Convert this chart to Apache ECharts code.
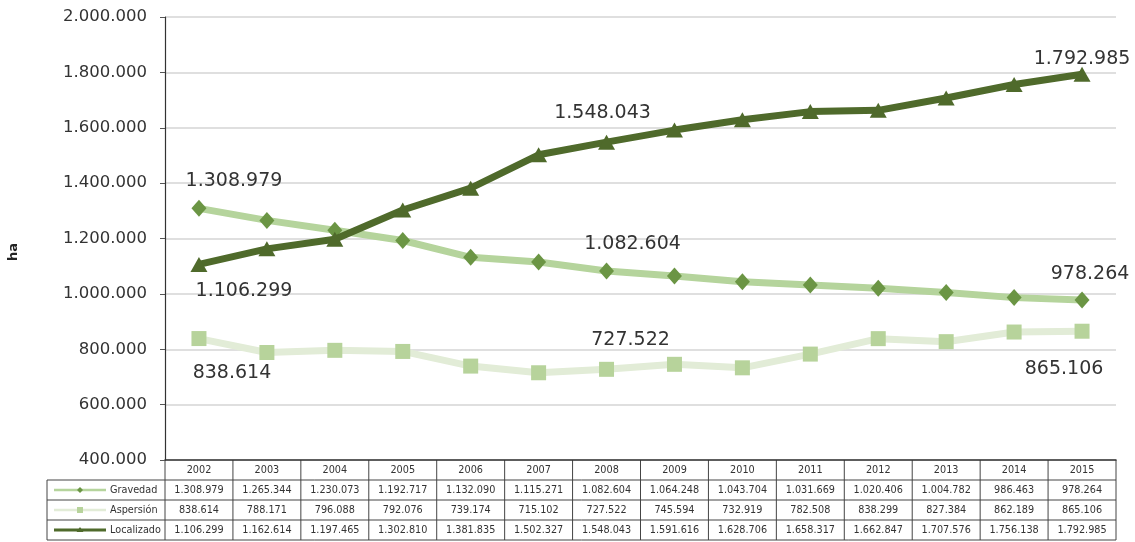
<!DOCTYPE html>
<html>
<head>
<meta charset="utf-8">
<script src="https://cdn.jsdelivr.net/npm/echarts@6/dist/echarts.min.js"></script>
<style>
html,body{margin:0;padding:0;background:#fff;}
#c{width:1135px;height:542px;}
</style>
</head>
<body>
<div id="c"></div>
<script>
const years = ['2002','2003','2004','2005','2006','2007','2008','2009','2010','2011','2012','2013','2014','2015'];
const gravedad = [1308979,1265344,1230073,1192717,1132090,1115271,1082604,1064248,1043704,1031669,1020406,1004782,986463,978264];
const aspersion = [838614,788171,796088,792076,739174,715102,727522,745594,732919,782508,838299,827384,862189,865106];
const localizado = [1106299,1162614,1197465,1302810,1381835,1502327,1548043,1591616,1628706,1658317,1662847,1707576,1756138,1792985];
const seriesNames = ['Gravedad','Aspersión','Localizado'];
const yTicks = [400000,600000,800000,1000000,1200000,1400000,1600000,1800000,2000000];
const yTitle = 'ha';

function fmt(v){ return String(Math.round(v)).replace(/\B(?=(\d{3})+(?!\d))/g,'.'); }

const GL=165, GR=1116, GT=17, GB=460;
const chart = echarts.init(document.getElementById('c'));

const labelFont = {fontFamily:'DejaVu Sans', fontSize:19, color:'#333'};
function withLabels(data, specs){
  return data.map((v,i)=>{
    const s = specs[i];
    if(!s) return v;
    return {value:v, label:Object.assign({show:true, position:'inside', offset:s, formatter:p=>fmt(p.value)}, labelFont)};
  });
}

const option = {
  animation:false,
  grid:{left:GL, right:1135-GR, top:GT, bottom:542-GB, containLabel:false, outerBoundsMode:'none'},
  xAxis:{
    type:'category', data:years, boundaryGap:true,
    axisLine:{show:true, lineStyle:{color:'#333', width:1.5}},
    axisTick:{show:false},
    axisLabel:{show:true, margin:5, fontFamily:'DejaVu Sans', fontSize:9.7, color:'#333'},
    splitLine:{show:false}
  },
  yAxis:{
    type:'value', min:yTicks[0], max:yTicks[yTicks.length-1], interval:200000,
    axisLine:{show:true, lineStyle:{color:'#333', width:1.2}},
    axisTick:{show:true, length:5, lineStyle:{color:'#555'}},
    axisLabel:{margin:18, fontFamily:'DejaVu Sans', fontSize:16.5, color:'#333', formatter:v=>fmt(v)},
    splitLine:{show:true, lineStyle:{color:'#d4d4d4', width:1.5}}
  },
  series:[
    {name:seriesNames[1], type:'line', data:withLabels(aspersion,{0:[33,35],6:[24,-29],13:[-18,38]}),
     symbol:'rect', symbolSize:15, z:2,
     lineStyle:{color:'#e2ecd7', width:7}, itemStyle:{color:'#b7d39b'}},
    {name:seriesNames[0], type:'line', data:withLabels(gravedad,{0:[35,-27],6:[26,-27],13:[8,-26]}),
     symbol:'diamond', symbolSize:[15,17], z:3,
     lineStyle:{color:'#b5d49c', width:7}, itemStyle:{color:'#6b9544'}},
    {name:seriesNames[2], type:'line', data:withLabels(localizado,{0:[45,27],6:[-4,-29],13:[0,-15]}),
     symbol:'triangle', symbolSize:[17,15], z:4,
     lineStyle:{color:'#4f6a2b', width:7}, itemStyle:{color:'#4f6a2b'}}
  ]
};
chart.setOption(option);

// data table below the plot
const rows = [gravedad, aspersion, localizado];
const rowTop = 480, rowH = 20, tableLeft = 47;
const g = [];
const stroke = {stroke:'#444', lineWidth:1};
const n = years.length;
const c0 = chart.convertToPixel({xAxisIndex:0}, 0);
const c1 = chart.convertToPixel({xAxisIndex:0}, 1);
const cw = c1 - c0;
const left = c0 - cw/2, right = left + n*cw;
for(let r=0;r<=rows.length;r++){
  const y = rowTop + r*rowH;
  g.push({type:'line', shape:{x1:tableLeft,y1:y,x2:right,y2:y}, style:stroke, silent:true});
}
g.push({type:'line', shape:{x1:tableLeft,y1:rowTop,x2:tableLeft,y2:rowTop+rows.length*rowH}, style:stroke});
for(let i=0;i<=n;i++){
  const x = left + i*cw;
  g.push({type:'line', shape:{x1:x,y1:GB,x2:x,y2:rowTop+rows.length*rowH}, style:stroke});
}
rows.forEach((arr,r)=>{
  const cy = rowTop + r*rowH + rowH/2;
  arr.forEach((v,i)=>{
    const cx = chart.convertToPixel({xAxisIndex:0}, i);
    g.push({type:'text', x:cx, y:cy, style:{text:fmt(v), x:0, y:0, align:'center', verticalAlign:'middle', fontFamily:'DejaVu Sans', fontSize:9.7, fill:'#333'}});
  });
  const s = option.series.find(s=>s.name===seriesNames[r]);
  const lineCol = s.lineStyle.color, itemCol = s.itemStyle.color;
  g.push({type:'line', shape:{x1:54,y1:cy,x2:106,y2:cy}, style:{stroke:lineCol, lineWidth:r===2?3:2.5}});
  if(r===0) g.push({type:'polygon', shape:{points:[[80,cy-3],[83,cy],[80,cy+3],[77,cy]]}, style:{fill:itemCol}});
  if(r===1) g.push({type:'rect', shape:{x:77,y:cy-3,width:6,height:6}, style:{fill:itemCol}});
  if(r===2) g.push({type:'polygon', shape:{points:[[80,cy-3],[83.5,cy+2],[76.5,cy+2]]}, style:{fill:itemCol}});
  g.push({type:'text', x:110, y:cy, style:{text:seriesNames[r], x:0, y:0, align:'left', verticalAlign:'middle', fontFamily:'DejaVu Sans', fontSize:9.7, fill:'#333'}});
});
g.push({type:'text', x:14, y:252, rotation:Math.PI/2, style:{text:yTitle, x:0, y:0, align:'center', verticalAlign:'middle', fontFamily:'DejaVu Sans', fontSize:13, fontWeight:'bold', fill:'#222'}});
chart.setOption({graphic:{elements:g}});
</script>
</body>
</html>
